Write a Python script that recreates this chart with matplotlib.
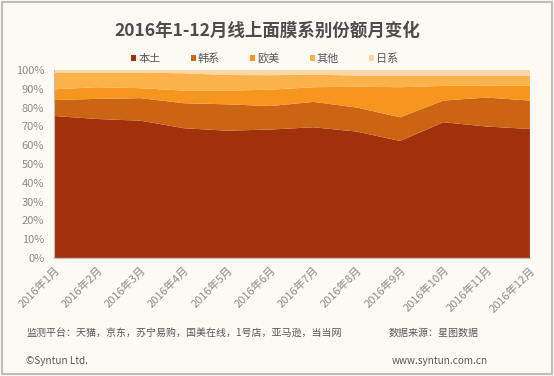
import numpy as np
import matplotlib.pyplot as plt
from matplotlib.patches import Rectangle

plt.rcParams['font.family'] = ['Noto Sans CJK SC', 'DejaVu Sans']

months = ['2016年%d月' % m for m in range(1, 13)]
series = ['本土', '韩系', '欧美', '其他', '日系']
# cumulative tops (%)
bentu = [75.5, 73.9, 73.0, 69.0, 67.7, 68.3, 69.5, 67.2, 62.2, 72.2, 69.9, 68.6]
hanxi_top = [84.0, 84.6, 85.0, 82.3, 81.7, 80.8, 83.0, 80.0, 74.8, 83.7, 85.3, 83.7]
oumei_top = [89.7, 90.8, 90.3, 89.0, 89.0, 89.5, 90.8, 91.1, 90.8, 91.5, 91.8, 91.5]
qita_top = [98.6, 98.6, 98.6, 98.2, 97.3, 97.2, 97.5, 97.0, 97.0, 97.0, 97.0, 96.8]

hanxi = np.array(hanxi_top) - np.array(bentu)
oumei = np.array(oumei_top) - np.array(hanxi_top)
qita = np.array(qita_top) - np.array(oumei_top)
rixi = 100 - np.array(qita_top)

colors = ['#A2300A', '#CB6413', '#F6961E', '#FBB24A', '#F8D6A8']
bg = '#FDF9F3'

fig = plt.figure(figsize=(5.54, 3.76), dpi=100, facecolor=bg)
ax = fig.add_axes([0.0975, 0.314, 0.859, 0.500])
ax.set_facecolor(bg)

x = np.arange(len(months))
ax.stackplot(x, bentu, hanxi, oumei, qita, rixi, colors=colors, labels=series)
ax.set_xlim(0, 11)
ax.set_ylim(0, 100)
ax.set_yticks(np.arange(0, 101, 10))
ax.set_yticklabels(['%d%%' % v for v in range(0, 101, 10)], color='#8C8C8C', fontsize=8)
ax.set_xticks(x)
ax.set_xticklabels(months, rotation=45, ha='right', rotation_mode='anchor',
                   color='#8C8C8C', fontsize=8)
ax.tick_params(axis='y', length=0, pad=7)
ax.tick_params(axis='x', length=0, pad=5)
for s in ['top', 'right']:
    ax.spines[s].set_visible(False)
ax.spines['left'].set_color('#BFBFBF')
ax.spines['bottom'].set_color('#BFBFBF')

fig.text(0.482, 0.918, '2016年1-12月线上面膜系别份额月变化', ha='center', va='center',
         fontsize=12.6, fontweight='bold', color='#4D4D4D')
leg = fig.legend(loc='center', bbox_to_anchor=(0.478, 0.845), ncol=5, frameon=False,
                 fontsize=8, handlelength=0.45, handleheight=0.45, columnspacing=2.7,
                 handletextpad=0.2, labelcolor='#595959')

fig.text(0.047, 0.114, '监测平台：天猫，京东，苏宁易购，国美在线，1号店，亚马逊，当当网',
         fontsize=7.2, color='#595959', va='center')
fig.text(0.701, 0.114, '数据来源：星图数据', fontsize=7.2, color='#595959', va='center')
fig.text(0.047, 0.04, '©Syntun Ltd.', fontsize=7.2, color='#595959', va='center')
fig.text(0.88, 0.04, 'www.syntun.com.cn', fontsize=7.2, color='#595959', va='center', ha='right')

fig.patches.append(Rectangle((0.003, 0.004), 0.994, 0.992, transform=fig.transFigure,
                             fill=False, edgecolor='#BDBDBD', linewidth=1.5))

fig.savefig('out.png', dpi=100, facecolor=bg)
